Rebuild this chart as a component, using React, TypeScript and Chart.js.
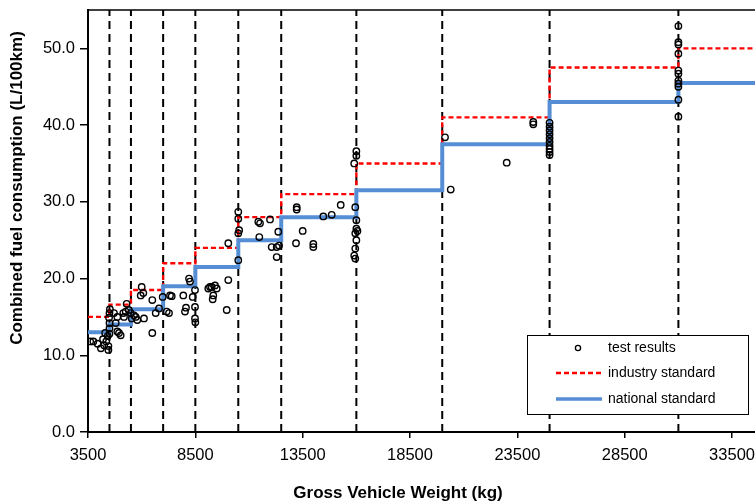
import React, { useEffect, useRef } from "react";
import { Chart, registerables } from "chart.js";

Chart.register(...registerables);

// ---------- data ----------
const gvwBoundaries = [3500, 4500, 5500, 7000, 8500, 10500, 12500, 16000, 20000, 25000, 31000];
const industryStandard = [15.0, 16.6, 18.5, 22.0, 24.0, 28.0, 31.0, 35.0, 41.0, 47.5, 50.0];
const nationalStandard = [13.0, 14.0, 16.0, 19.0, 21.5, 25.0, 28.0, 31.5, 37.5, 43.0, 45.5];
const classLines = [4500, 5500, 7000, 8500, 10500, 12500, 16000, 20000, 25000, 31000];
const xTicks = [3500, 8500, 13500, 18500, 23500, 28500, 33500];
const yTicks = [0, 10, 20, 30, 40, 50];
const xMin = 3500;
const xMax = 35500;
const yMin = 0;
const yMax = 55;

// [gross vehicle weight (kg), combined fuel consumption (L/100km)]
const testResults: [number, number][] = [
  [3600, 11.8], [3750, 11.8], [3950, 11.5], [4100, 10.9], [4200, 12.1], [4250, 11.3],
  [4350, 11.8], [4420, 12.5], [4450, 10.7], [4450, 11.2], [4300, 12.9],
  [4500, 12.8], [4500, 13.5], [4500, 14.2], [4480, 14.9], [4500, 15.5], [4520, 16.0],
  [4710, 15.5], [4790, 14.2], [4865, 13.1], [4944, 12.9], [5023, 12.6], [5144, 15.5],
  [5256, 15.7], [4865, 15.0], [5177, 15.0], [5300, 16.7], [5400, 15.9],
  [5490, 15.5], [5536, 14.8], [5643, 15.2], [5722, 15.0], [5796, 14.6], [5955, 17.8],
  [6001, 18.9], [6076, 18.1], [6108, 14.8], [6495, 17.2], [6495, 12.9], [6653, 15.5],
  [6807, 16.1], [6980, 17.6],
  [7166, 15.7], [7273, 15.5], [7320, 17.8], [7399, 17.7], [7939, 17.8], [8065, 16.2],
  [8018, 15.7], [8377, 17.6], [8205, 20.0], [8251, 19.6], [8484, 18.5], [8484, 16.3],
  [8484, 14.8], [8500, 14.3],
  [9104, 18.7], [9183, 18.9], [9262, 18.9], [9416, 19.1], [9495, 18.7], [9336, 17.8],
  [9308, 17.3], [10035, 19.8], [9961, 15.9], [10035, 24.6],
  [10500, 28.7], [10500, 27.8], [10540, 26.3], [10500, 25.9], [10500, 22.4],
  [11433, 27.4], [11512, 27.2], [11978, 27.7], [11479, 25.4], [12057, 24.1], [12290, 24.1],
  [12364, 26.1], [12290, 22.8], [12400, 24.3],
  [13221, 29.3], [13221, 29.0], [13500, 26.2], [13189, 24.6], [13995, 24.5], [13995, 24.1],
  [14460, 28.1], [14851, 28.3], [15271, 29.6],
  [16000, 36.6], [16000, 36.0], [15900, 35.0], [15950, 29.3], [16000, 27.6], [16000, 26.5],
  [16050, 26.2], [15950, 25.9], [16000, 25.0], [15950, 23.9], [15900, 23.0], [15950, 22.6],
  [20129, 38.4], [20395, 31.6],
  [23003, 35.1], [24242, 40.4], [24242, 40.1],
  [25000, 36.1], [25000, 36.5], [25000, 36.9], [25000, 37.3], [25000, 37.8], [25000, 38.3],
  [25000, 38.8], [25000, 39.3], [25000, 39.8], [25000, 40.3],
  [31000, 52.9], [31000, 50.8], [31000, 50.5], [31000, 49.3], [31000, 47.1], [31000, 46.7],
  [31000, 45.8], [31000, 45.4], [31000, 45.0], [31000, 43.3], [31000, 41.1],
];

const seriesLabels = ["test results", "industry standard", "national standard"];
const xTitle = "Gross Vehicle Weight (kg)";
const yTitle = "Combined fuel consumption (L/100km)";

// ---------- styles ----------
const FONT = "'Liberation Sans', Arial, sans-serif";
const RED = "#ff0000";
const BLUE = "#558ed5";

const stepData = (vals: number[]) =>
  gvwBoundaries
    .map((x, i) => ({ x, y: vals[i] }))
    .concat([{ x: xMax, y: vals[vals.length - 1] }]);

const customPlugin = {
  id: "custom-decor",
  afterDraw(chart: any) {
    const ctx = chart.ctx as CanvasRenderingContext2D;
    const a = chart.chartArea;
    ctx.save();
    // frame
    ctx.strokeStyle = "#000";
    ctx.lineWidth = 1.5;
    ctx.beginPath();
    ctx.moveTo(a.left, a.top);
    ctx.lineTo(a.right, a.top);
    ctx.lineTo(a.right, a.bottom);
    ctx.stroke();

    // axis titles
    ctx.fillStyle = "#000";
    ctx.font = `bold 17px ${FONT}`;
    ctx.textAlign = "center";
    ctx.textBaseline = "middle";
    ctx.fillText(xTitle, 398, 493);
    ctx.save();
    ctx.translate(17, 188);
    ctx.rotate(-Math.PI / 2);
    ctx.fillText(yTitle, 0, 0);
    ctx.restore();

    // legend
    const bx = 527, by = 335, bw = 221, bh = 79;
    ctx.fillStyle = "#fff";
    ctx.fillRect(bx, by, bw, bh);
    ctx.strokeStyle = "#000";
    ctx.lineWidth = 1;
    ctx.strokeRect(bx + 0.5, by + 0.5, bw, bh);
    const rows = [348, 373, 399];
    ctx.font = `14px ${FONT}`;
    ctx.textAlign = "left";
    ctx.textBaseline = "middle";
    // marker
    ctx.beginPath();
    ctx.arc(578, rows[0], 2.6, 0, Math.PI * 2);
    ctx.lineWidth = 1.3;
    ctx.strokeStyle = "#000";
    ctx.stroke();
    // red dashed
    ctx.beginPath();
    ctx.setLineDash([5, 3]);
    ctx.strokeStyle = RED;
    ctx.lineWidth = 2.3;
    ctx.moveTo(556, rows[1]);
    ctx.lineTo(602, rows[1]);
    ctx.stroke();
    ctx.setLineDash([]);
    // blue
    ctx.beginPath();
    ctx.strokeStyle = BLUE;
    ctx.lineWidth = 3.5;
    ctx.moveTo(556, rows[2]);
    ctx.lineTo(602, rows[2]);
    ctx.stroke();
    ctx.fillStyle = "#000";
    seriesLabels.forEach((t, i) => ctx.fillText(t, 608, rows[i]));
    ctx.restore();
  },
};

export default function App() {
  const ref = useRef<HTMLCanvasElement>(null);

  useEffect(() => {
    if (!ref.current) return;
    const verticals = classLines.map((x) => ({
      type: "line" as const,
      label: "class",
      data: [
        { x, y: yMin },
        { x, y: yMax },
      ],
      borderColor: "#000",
      borderWidth: 2,
      borderDash: [8, 5],
      pointRadius: 0,
      fill: false,
    }));

    const chart = new Chart(ref.current, {
      type: "scatter",
      data: {
        datasets: [
          {
            type: "scatter",
            label: seriesLabels[0],
            data: testResults.map(([x, y]) => ({ x, y })),
            pointRadius: 3.2,
            pointBorderWidth: 1.4,
            pointBorderColor: "#000",
            pointBackgroundColor: "rgba(0,0,0,0)",
            showLine: false,
          },
          {
            type: "line",
            label: seriesLabels[2],
            data: stepData(nationalStandard),
            stepped: true,
            borderColor: BLUE,
            borderWidth: 4,
            pointRadius: 0,
            fill: false,
          },
          {
            type: "line",
            label: seriesLabels[1],
            data: stepData(industryStandard),
            stepped: true,
            borderColor: RED,
            borderWidth: 2.4,
            borderDash: [5, 3],
            pointRadius: 0,
            fill: false,
          },
          ...verticals,
        ] as any,
      },
      options: {
        responsive: false,
        devicePixelRatio: 1,
        animation: false,
        events: [],
        layout: { padding: { top: 10, right: 25, left: 0, bottom: 0 } },
        plugins: {
          legend: { display: false },
          tooltip: { enabled: false },
          title: { display: false },
        },
        scales: {
          x: {
            type: "linear",
            min: xMin,
            max: xMax,
            afterBuildTicks: (s: any) => {
              s.ticks = xTicks.map((v) => ({ value: v }));
            },
            afterFit: (s: any) => {
              s.height = 70;
              s.paddingLeft = 0;
              s.paddingRight = 0;
              s.paddingTop = 0;
              s.paddingBottom = 0;
            },
            ticks: {
              color: "#000",
              font: { family: FONT, size: 16.5 },
              padding: 8,
              maxRotation: 0,
              autoSkip: false,
              callback: (v: any) => String(v),
            },
            grid: {
              drawOnChartArea: false,
              drawTicks: true,
              tickLength: 6,
              color: "#000",
              lineWidth: 1.5,
            },
            border: { display: true, color: "#000", width: 2 },
          },
          y: {
            type: "linear",
            min: yMin,
            max: yMax,
            afterBuildTicks: (s: any) => {
              s.ticks = yTicks.map((v) => ({ value: v }));
            },
            afterFit: (s: any) => {
              s.width = 88;
              s.paddingLeft = 0;
              s.paddingRight = 0;
              s.paddingTop = 0;
              s.paddingBottom = 0;
            },
            ticks: {
              color: "#000",
              font: { family: FONT, size: 16.5 },
              padding: 5,
              autoSkip: false,
              callback: (v: any) => Number(v).toFixed(1),
            },
            grid: {
              drawOnChartArea: false,
              drawTicks: true,
              tickLength: 8,
              color: "#000",
              lineWidth: 1.5,
            },
            border: { display: true, color: "#000", width: 2 },
          },
        },
      },
      plugins: [customPlugin],
    });
    return () => chart.destroy();
  }, []);

  return (
    <div
      style={{
        position: "fixed",
        left: 0,
        top: 0,
        width: 755,
        height: 502,
        overflow: "hidden",
        background: "#fff",
      }}
    >
      <canvas ref={ref} width={800} height={502} style={{ display: "block", width: 800, height: 502 }} />
    </div>
  );
}
